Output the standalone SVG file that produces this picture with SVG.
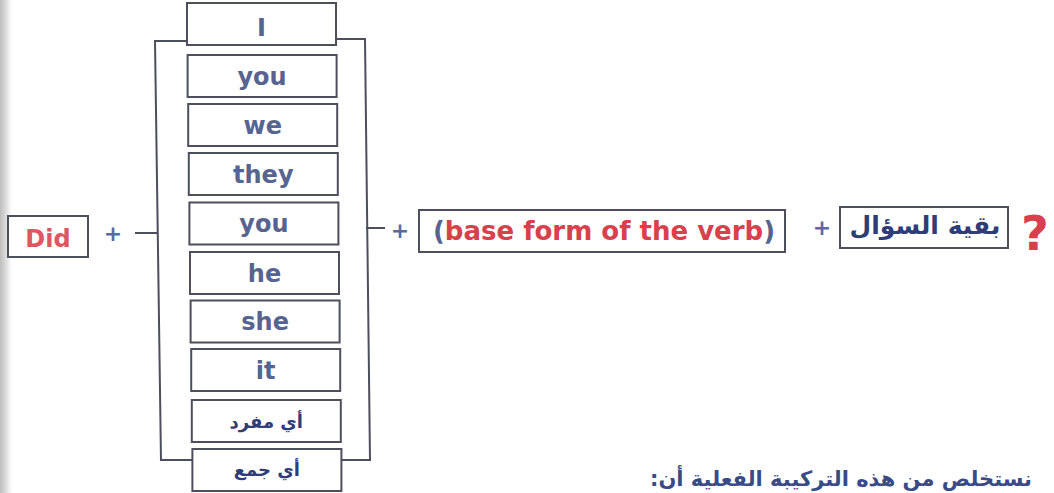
<svg xmlns="http://www.w3.org/2000/svg" width="1054" height="493" viewBox="0 0 1054 493">
<defs>
<linearGradient id="shade" x1="0" y1="0" x2="1" y2="0">
<stop offset="0" stop-color="#bdbdbd"/>
<stop offset="0.5" stop-color="#e2e2e2"/>
<stop offset="1" stop-color="#ffffff" stop-opacity="0"/>
</linearGradient>
<style>
.box{fill:#ffffff;stroke:#4d4f5c;stroke-width:2}
.ln{fill:none;stroke:#4d4f5c;stroke-width:2}
.pr{font-family:"DejaVu Sans",sans-serif;font-weight:bold;font-size:24px;fill:#56648f;text-anchor:middle}
.ar{font-family:"DejaVu Sans","Noto Sans",sans-serif;font-weight:bold;fill:#2e3c78;text-anchor:middle}
.plus{font-family:"DejaVu Sans",sans-serif;font-weight:bold;font-size:22px;fill:#5a6aa0;text-anchor:middle}
.red{fill:#d8404c}
</style>
</defs>
<rect width="1054" height="493" fill="#ffffff"/>
<rect x="0" y="0" width="14" height="493" fill="url(#shade)"/>

<g id="connectors">
<path class="ln" d="M187,41 L155,41 L161,460 L193,460"/>
<path class="ln" d="M335,39 L365,39 L370,460 L342,460"/>
<path class="ln" d="M135,233 L157,233"/>
<path class="ln" d="M366,228 L385,228"/>
</g>

<g id="did">
<rect class="box" x="8" y="216" width="80" height="41"/>
<text class="pr" x="48" y="247" style="fill:#df5560">Did</text>
</g>
<g id="plus1"><text class="plus" x="113" y="241">+</text></g>

<g id="p1"><rect class="box" x="187" y="3" width="149" height="42"/><text class="pr" x="261.5" y="36">I</text></g>
<g id="p2"><rect class="box" x="187.6" y="55" width="149" height="42"/><text class="pr" x="262" y="85">you</text></g>
<g id="p3"><rect class="box" x="188.2" y="104" width="149" height="42"/><text class="pr" x="262.7" y="134">we</text></g>
<g id="p4"><rect class="box" x="188.8" y="153" width="149" height="42"/><text class="pr" x="263.3" y="183">they</text></g>
<g id="p5"><rect class="box" x="189.4" y="202.5" width="149" height="42"/><text class="pr" x="263.9" y="232">you</text></g>
<g id="p6"><rect class="box" x="190" y="252" width="149" height="42"/><text class="pr" x="264.5" y="282">he</text></g>
<g id="p7"><rect class="box" x="190.6" y="300.5" width="149" height="42"/><text class="pr" x="265.1" y="330">she</text></g>
<g id="p8"><rect class="box" x="191.2" y="349" width="149" height="42"/><text class="pr" x="265.7" y="379">it</text></g>
<g id="p9"><rect class="box" x="191.8" y="400" width="149" height="42"/><text class="ar" x="266.3" y="428" font-size="18">أي مفرد</text></g>
<g id="p10"><rect class="box" x="192.4" y="449" width="149" height="42"/><text class="ar" x="266.9" y="476" font-size="18">أي جمع</text></g>

<g id="plus2"><text class="plus" x="400" y="238">+</text></g>
<g id="verb">
<rect class="box" x="419" y="210" width="366" height="42"/>
<text class="pr" x="604" y="240" style="font-size:26px"><tspan style="fill:#56648f">(</tspan><tspan class="red">base form of the verb</tspan><tspan style="fill:#56648f">)</tspan></text>
</g>
<g id="plus3"><text class="plus" x="822" y="235">+</text></g>
<g id="rest">
<rect class="box" x="840" y="207" width="168" height="41"/>
<text class="ar" x="925" y="234" font-size="25">بقية السؤال</text>
</g>
<g id="qmark"><text x="1035" y="250" style="font-family:'DejaVu Sans',sans-serif;font-weight:bold;font-size:48px;fill:#d8404c;text-anchor:middle">?</text></g>

<text x="650" y="486" direction="rtl" text-anchor="end" style="font-family:'DejaVu Sans','Noto Sans',sans-serif;font-weight:bold;font-size:21px;fill:#3a4a85">نستخلص من هذه التركيبة الفعلية أن:</text>
</svg>
